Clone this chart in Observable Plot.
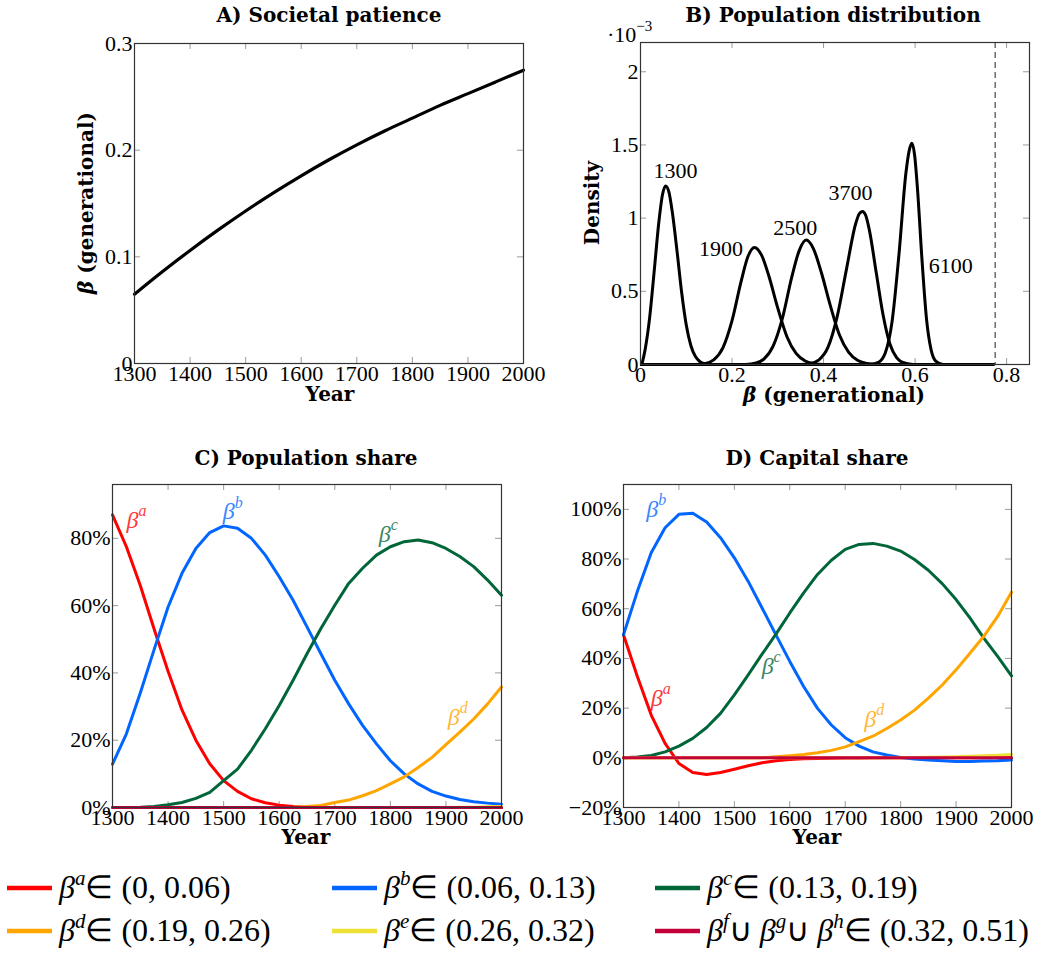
<!DOCTYPE html>
<html><head><meta charset="utf-8">
<script src="https://cdn.jsdelivr.net/npm/d3@7"></script>
<script src="https://cdn.jsdelivr.net/npm/@observablehq/plot@0.6"></script>
<style>
body{margin:0;background:#fff;}
#page{position:relative;width:1051px;height:954px;overflow:hidden;background:#fff;}
.panel{position:absolute;}
#overlay{position:absolute;left:0;top:0;pointer-events:none;}
</style></head><body><div id="page"></div>
<script>
// ---------------- DATA ----------------
// Panel A: societal patience
const patienceYears = [1300,1350,1400,1450,1500,1550,1600,1650,1700,1750,1800,1850,1900,1950,2000];
const patienceBeta  = [0.065,0.086,0.106,0.125,0.143,0.160,0.176,0.191,0.205,0.218,0.230,0.242,0.253,0.264,0.275];

// Panel B: population distributions (beta, density x1e-3)
const dens1300 = [[0.003,0],[0.010,0.10],[0.020,0.32],[0.030,0.64],[0.040,0.97],[0.048,1.16],[0.055,1.22],[0.062,1.18],[0.070,1.03],[0.080,0.77],[0.090,0.49],[0.100,0.27],[0.110,0.13],[0.120,0.054],[0.130,0.02],[0.140,0.006],[0.155,0]];
const dens1900 = [[0.12,0],[0.14,0.006],[0.16,0.032],[0.18,0.114],[0.20,0.30],[0.22,0.57],[0.235,0.74],[0.249,0.80],[0.265,0.744],[0.28,0.61],[0.30,0.385],[0.32,0.19],[0.34,0.076],[0.36,0.024],[0.38,0.006],[0.40,0]];
const dens2500 = [[0.23,0],[0.25,0.009],[0.27,0.038],[0.29,0.127],[0.31,0.315],[0.33,0.59],[0.347,0.78],[0.362,0.85],[0.378,0.79],[0.395,0.63],[0.415,0.40],[0.435,0.20],[0.455,0.083],[0.475,0.027],[0.495,0.007],[0.515,0]];
const dens3700 = [[0.35,0],[0.37,0.006],[0.39,0.032],[0.41,0.12],[0.43,0.33],[0.45,0.65],[0.47,0.96],[0.478,1.03],[0.485,1.046],[0.492,1.02],[0.50,0.92],[0.515,0.63],[0.53,0.34],[0.545,0.14],[0.56,0.046],[0.575,0.012],[0.595,0]];
const dens6100 = [[0.50,0],[0.52,0.015],[0.535,0.08],[0.55,0.30],[0.565,0.76],[0.58,1.31],[0.587,1.46],[0.593,1.511],[0.599,1.43],[0.605,1.21],[0.615,0.72],[0.625,0.31],[0.635,0.10],[0.645,0.023],[0.66,0]];
const densLabels = [
  {x:0.0765, y:1.32, t:"1300"},
  {x:0.176, y:0.79, t:"1900"},
  {x:0.338, y:0.93, t:"2500"},
  {x:0.459, y:1.17, t:"3700"},
  {x:0.678, y:0.676, t:"6100"}
];
const betaMax = 0.775;

// Panels C & D: shares (%) every 25 years
const years = [1300,1325,1350,1375,1400,1425,1450,1475,1500,1525,1550,1575,1600,1625,1650,1675,1700,1725,1750,1775,1800,1825,1850,1875,1900,1925,1950,1975,2000];
const popA = [87,77.5,66,53,40.5,29,20,13,8,4.8,2.6,1.4,0.7,0.3,0.1,0,0,0,0,0,0,0,0,0,0,0,0,0,0];
const popB = [12.9,21.9,34,47,59.6,69.6,77,81.7,83.7,83,80,75,68.6,61.6,53.7,45.7,37.8,30.8,24.4,18.9,13.9,10,7,4.8,3.4,2.4,1.7,1.3,1.0];
const popC = [0,0,0.1,0.3,0.8,1.5,2.7,4.5,8,11.4,17,23.4,30.3,37.8,45.7,53.2,60.1,66.6,71.1,75,77.5,79,79.5,78.7,77,74.6,71.6,67.6,63.1];
const popD = [0,0,0,0,0,0,0,0,0,0,0,0,0,0.1,0.3,0.6,1.5,2.2,3.5,5,7,9.1,11.9,14.9,18.7,22.4,26.3,30.8,35.8];
const popE = [0,0,0,0,0,0,0,0,0,0,0,0,0,0,0,0,0,0,0,0,0,0,0,0,0,0.1,0.1,0.2,0.3];
const popFGH = [0,0,0,0,0,0,0,0,0,0,0,0,0,0,0,0,0,0,0,0,0,0,0,0,0,0,0,0,0];

const capA = [49.5,32.7,17.2,5.8,-2.3,-5.9,-6.7,-5.9,-4.6,-3.2,-2.0,-1.2,-0.7,-0.4,-0.3,-0.2,-0.1,-0.05,0,0,0,0,0,0,0,0,0,0,0];
const capB = [49.5,67,82.5,92.6,98,98.4,94.9,88.6,80.5,71,60.3,49.5,38.8,28.7,19.9,13.2,8.1,4.7,2.4,1.1,0.1,-0.5,-0.9,-1.2,-1.5,-1.5,-1.3,-1.2,-0.9];
const capC = [0,0.3,0.9,2.4,4.7,7.8,12.2,17.9,25.3,33.4,41.7,49.8,58.3,66.4,73.8,79.5,83.9,85.9,86.3,85.2,83.2,79.8,75.5,70.1,63.7,56.3,48.2,40.8,33];
const capD = [0,0,0,0,0,0,0,0,0,0,0,0.4,0.8,1.3,2,3,4.4,6.5,8.7,11.8,15.2,19.2,24,29.3,35.4,42.1,48.9,56.9,66.6];
const capE = [0,0,0,0,0,0,0,0,0,0,0,0,0,0,0,0,0,0,0,0,0,0.1,0.2,0.3,0.4,0.6,0.8,1.0,1.3];
const capFGH = [0,0,0,0,0,0,0,0,0,0,0,0,0,0,0,0,0,0,0,0,0,0,0,0,0,0,0,0,0];

const groupKeys = ["a","b","c","d","e","fgh"];
const groupColors = {a:"#ff0000", b:"#0066ff", c:"#00663a", d:"#ffa500", e:"#efe035", fgh:"#c4003c"};
const groupRanges = {a:"(0, 0.06)", b:"(0.06, 0.13)", c:"(0.13, 0.19)", d:"(0.19, 0.26)", e:"(0.26, 0.32)", fgh:"(0.32, 0.51)"};

const popLabels = [
  {x:1336, y:0.855, s:"a", k:"a"},
  {x:1509, y:0.88, s:"b", k:"b"},
  {x:1790, y:0.813, s:"c", k:"c"},
  {x:1914, y:0.268, s:"d", k:"d"}
];
const capLabels = [
  {x:1352, y:1.00, s:"b", k:"b"},
  {x:1360, y:0.24, s:"a", k:"a"},
  {x:1560, y:0.37, s:"c", k:"c"},
  {x:1745, y:0.155, s:"d", k:"d"}
];

const yearTicks = [1300,1400,1500,1600,1700,1800,1900,2000];
const patienceTicks = [0,0.1,0.2,0.3];
const betaTicks = [0,0.2,0.4,0.6,0.8];
const densTicks = [0,0.5,1,1.5,2];
const popTicks = [0,0.2,0.4,0.6,0.8];
const capTicks = [-0.2,0,0.2,0.4,0.6,0.8,1.0];

// ---------------- FONT PICK ----------------
function hasFont(name) {
  const c = document.createElement("canvas").getContext("2d");
  const s = "0123456789 abcdefghij (0.06)";
  c.font = "40px monospace"; const w1 = c.measureText(s).width;
  c.font = `40px "${name}", monospace`; const w2 = c.measureText(s).width;
  return Math.abs(w1 - w2) > 0.5;
}
const libOK = hasFont("Liberation Serif");
const SERIF = libOK ? "Liberation Serif" : "DejaVu Serif";
const TICK = libOK ? 22 : 18;
const LEG = libOK ? 32 : 26;
const BOLDFONT = "DejaVu Serif";

// ---------------- DRAWING ----------------
const page = document.getElementById("page");

function forceFont(svg) {
  svg.querySelectorAll("text").forEach(t => {
    t.setAttribute("font-family", SERIF);
    t.style.fontFamily = `"${SERIF}"`;
  });
}

function panel({left, top, width, height, m, xDomain, yDomain, xTicks, yTicks, xFormat, yFormat, marks}) {
  const [mt, mr, mb, ml] = m;
  const W = width - ml - mr, H = height - mt - mb;
  const tk = {stroke: "#9a9a9a", strokeWidth: 1};
  const svg = Plot.plot({
    width, height, marginTop: mt, marginRight: mr, marginBottom: mb, marginLeft: ml,
    style: {fontFamily: SERIF, fontSize: TICK + "px", background: "transparent", overflow: "visible", color: "#000"},
    x: {domain: xDomain},
    y: {domain: yDomain},
    color: {type: "identity"},
    marks: [
      Plot.tickX(xTicks, {x: d => d, insetTop: H - 6, ...tk}),
      Plot.tickX(xTicks, {x: d => d, insetBottom: H - 6, ...tk}),
      Plot.tickY(yTicks, {y: d => d, insetRight: W - 6, ...tk}),
      Plot.tickY(yTicks, {y: d => d, insetLeft: W - 6, ...tk}),
      ...marks,
      Plot.frame({stroke: "#333", strokeWidth: 1.2}),
      Plot.axisX({ticks: xTicks, tickSize: 0, tickPadding: 2, tickFormat: xFormat, label: null, fontSize: TICK}),
      Plot.axisY({ticks: yTicks, tickSize: 0, tickPadding: 2, tickFormat: yFormat, label: null, fontSize: TICK})
    ]
  });
  forceFont(svg);
  const div = document.createElement("div");
  div.className = "panel";
  div.style.left = left + "px"; div.style.top = top + "px";
  div.style.width = width + "px"; div.style.height = height + "px";
  div.appendChild(svg);
  page.appendChild(div);
}

const yearFmt = d3.format("d");
const plainFmt = d => String(d);
const pctFmt = d3.format(".0%");

// Panel A
const patienceRows = patienceYears.map((yr, i) => ({year: yr, beta: patienceBeta[i]}));
panel({
  left: 0, top: 0, width: 530, height: 410, m: [43, 7, 47, 134],
  xDomain: [1300, 2000], yDomain: [0, 0.3], xTicks: yearTicks, yTicks: patienceTicks,
  xFormat: yearFmt, yFormat: plainFmt,
  marks: [Plot.line(patienceRows, {x: "year", y: "beta", stroke: "#000", strokeWidth: 3.2, curve: "monotone-x"})]
});

// Panel B
const densSeries = [dens1300, dens1900, dens2500, dens3700, dens6100];
panel({
  left: 530, top: 0, width: 521, height: 410, m: [42, 22, 46, 110],
  xDomain: [0, 0.85], yDomain: [0, 2.2], xTicks: betaTicks, yTicks: densTicks,
  xFormat: plainFmt, yFormat: plainFmt,
  marks: [
    Plot.ruleX([betaMax], {stroke: "#555", strokeWidth: 1.3, strokeDasharray: "6,4"}),
    Plot.ruleY([0], {x1: 0, x2: betaMax, stroke: "#000", strokeWidth: 3}),
    ...densSeries.map(s => Plot.line(s, {x: d => d[0], y: d => d[1], stroke: "#000", strokeWidth: 3, curve: "monotone-x"})),
    Plot.text(densLabels, {x: "x", y: "y", text: "t", fontSize: TICK, fill: "#000"})
  ]
});

function shareMarks(series, labels) {
  const ms = [];
  groupKeys.forEach((k, gi) => {
    const rows = years.map((yr, i) => ({year: yr, v: series[gi][i] / 100}));
    ms.push(Plot.line(rows, {x: "year", y: "v", stroke: groupColors[k], strokeWidth: 3}));
  });
  ms.push(Plot.text(labels, {x: "x", y: "y", text: () => "β", fill: d => groupColors[d.k], fillOpacity: 0.8, fontSize: TICK + 2, fontStyle: "italic"}));
  ms.push(Plot.text(labels, {x: "x", y: "y", text: "s", fill: d => groupColors[d.k], fillOpacity: 0.8, fontSize: TICK - 6, fontStyle: "italic", textAnchor: "start", dx: 6, dy: -9}));
  return ms;
}

// Panel C
panel({
  left: 0, top: 440, width: 530, height: 420, m: [44, 29, 53, 112],
  xDomain: [1300, 2000], yDomain: [0, 0.96], xTicks: yearTicks, yTicks: popTicks,
  xFormat: yearFmt, yFormat: pctFmt,
  marks: shareMarks([popA, popB, popC, popD, popE, popFGH], popLabels)
});

// Panel D
panel({
  left: 530, top: 440, width: 521, height: 420, m: [44, 40, 53, 93],
  xDomain: [1300, 2000], yDomain: [-0.2, 1.1], xTicks: yearTicks, yTicks: capTicks,
  xFormat: yearFmt, yFormat: pctFmt,
  marks: shareMarks([capA, capB, capC, capD, capE, capFGH], capLabels)
});

// ---------------- TEXT OVERLAY (titles, axis titles, legend) ----------------
const NS = "http://www.w3.org/2000/svg";
const ov = document.createElementNS(NS, "svg");
ov.setAttribute("id", "overlay");
ov.setAttribute("width", 1051); ov.setAttribute("height", 954);
page.appendChild(ov);

function txt(attrs, parts) {
  const t = document.createElementNS(NS, "text");
  for (const [k, v] of Object.entries(attrs)) t.setAttribute(k, v);
  if (attrs["font-family"]) t.style.fontFamily = `"${attrs["font-family"]}"`;
  for (const p of parts) {
    const s = document.createElementNS(NS, "tspan");
    if (typeof p === "string") s.textContent = p;
    else { s.textContent = p.t; for (const [k, v] of Object.entries(p)) if (k !== "t") s.setAttribute(k, v); }
    t.appendChild(s);
  }
  ov.appendChild(t);
  return t;
}
const BOLD = {"font-family": BOLDFONT, "font-weight": "bold", "font-size": 20, "text-anchor": "middle", fill: "#000"};
txt({...BOLD, x: 329, y: 22}, ["A) Societal patience"]);
txt({...BOLD, x: 833, y: 22}, ["B) Population distribution"]);
txt({...BOLD, x: 306, y: 465}, ["C) Population share"]);
txt({...BOLD, x: 817, y: 465}, ["D) Capital share"]);
txt({...BOLD, x: 330, y: 401}, ["Year"]);
txt({...BOLD, x: 306, y: 844}, ["Year"]);
txt({...BOLD, x: 817, y: 844}, ["Year"]);
txt({...BOLD, x: 834, y: 402}, [{t: "β", "font-style": "italic"}, " (generational)"]);
txt({...BOLD, transform: "translate(93,203) rotate(-90)"}, [{t: "β", "font-style": "italic"}, " (generational)"]);
txt({...BOLD, transform: "translate(599,203) rotate(-90)"}, ["Density"]);
txt({"font-family": SERIF, "font-size": TICK, x: 607, y: 42, fill: "#000"}, ["·10", {t: "−3", "font-size": TICK - 7, dy: -11}]);

// legend
const legendPos = [
  {k: "a", x: 7, y: 888}, {k: "b", x: 332, y: 888}, {k: "c", x: 655, y: 888},
  {k: "d", x: 7, y: 931}, {k: "e", x: 332, y: 931}, {k: "fgh", x: 655, y: 931}
];
for (const it of legendPos) {
  const ln = document.createElementNS(NS, "line");
  ln.setAttribute("x1", it.x); ln.setAttribute("x2", it.x + 45);
  ln.setAttribute("y1", it.y); ln.setAttribute("y2", it.y);
  ln.setAttribute("stroke", groupColors[it.k]); ln.setAttribute("stroke-width", 4.5);
  ov.appendChild(ln);
  const letters = it.k === "fgh" ? ["f", "g", "h"] : [it.k];
  const parts = [];
  letters.forEach((l, i) => {
    parts.push({t: "β", "font-style": "italic"});
    parts.push({t: l, "font-style": "italic", "font-size": Math.round(LEG * 0.67), dy: -Math.round(LEG * 0.4)});
    parts.push({t: i < letters.length - 1 ? "∪ " : "∈ " + groupRanges[it.k], dy: Math.round(LEG * 0.4)});
  });
  txt({"font-family": SERIF, "font-size": LEG, x: it.x + 52, y: it.y + 10, fill: "#000"}, parts);
}
</script></body></html>
